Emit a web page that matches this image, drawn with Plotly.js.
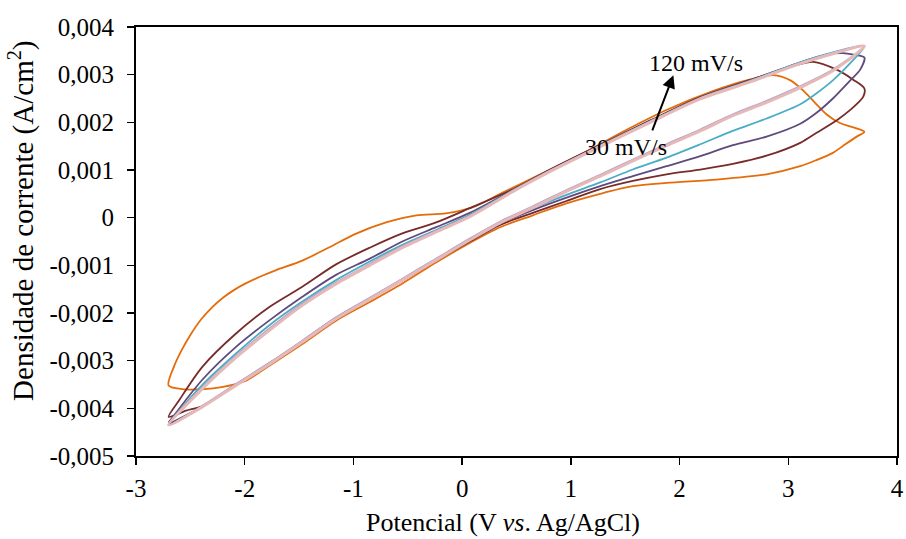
<!DOCTYPE html>
<html>
<head>
<meta charset="utf-8">
<script src="https://cdn.plot.ly/plotly-3.0.1.min.js"></script>
<style>html,body{margin:0;padding:0;background:#fff;}#chart{width:906px;height:539px;}</style>
</head>
<body>
<div id="chart"></div>
<script>
// Scan-rate series names (no legend shown in the figure)
const seriesNames = ["30 mV/s", "50 mV/s", "70 mV/s", "90 mV/s", "100 mV/s", "120 mV/s"];

// Orange loop
const potA = [-2.7,-2.65,-2.58,-2.5,-2.4,-2.3,-2.2,-2.1,-2.0,-1.85,-1.71,-1.47,-1.22,-0.98,-0.7,-0.42,-0.15,0.1,0.35,0.7,1.12,1.5,1.9,2.3,2.65,2.86,3.02,3.15,3.25,3.35,3.48,3.62,3.7,
  3.63,3.5,3.41,3.25,3.11,2.8,2.34,1.88,1.57,1.27,0.96,0.65,0.35,0.07,-0.24,-0.55,-0.85,-1.16,-1.47,-1.77,-2.0,-2.2,-2.4,-2.55,-2.7];
const curA = [-0.00352,-0.00312,-0.00278,-0.00246,-0.00213,-0.00188,-0.00168,-0.00152,-0.00139,-0.00123,-0.0011,-0.0009,-0.00062,-0.00034,-0.0001,0.00005,0.00009,0.00022,0.0005,0.00089,0.00136,0.00183,0.00228,0.00265,0.0029,0.00299,0.00288,0.00264,0.0024,0.00217,0.00198,0.00188,0.0018,
  0.0017,0.0015,0.00136,0.0012,0.00108,0.00091,0.0008,0.00073,0.00066,0.0005,0.0003,0.00005,-0.0002,-0.00053,-0.00094,-0.00138,-0.00177,-0.00216,-0.00265,-0.0031,-0.00343,-0.00355,-0.0036,-0.0036,-0.00352];

// Maroon loop
const potB = [-2.7,-2.6,-2.39,-2.08,-1.77,-1.47,-1.16,-0.85,-0.55,-0.24,0.07,0.5,0.81,1.27,1.73,2.19,2.65,3.0,3.23,3.45,3.6,3.7,
  3.69,3.57,3.45,3.26,3.11,2.8,2.49,2.19,1.88,1.57,1.27,0.96,0.65,0.35,0.07,-0.24,-0.55,-0.85,-1.16,-1.47,-1.77,-2.08,-2.39,-2.54,-2.7];
const curB = [-0.00418,-0.00382,-0.00313,-0.00243,-0.00187,-0.00145,-0.00098,-0.00063,-0.00033,-0.0001,0.0002,0.00063,0.00101,0.00153,0.00204,0.00253,0.00289,0.00315,0.00327,0.0031,0.00289,0.00271,
  0.00254,0.00226,0.00205,0.00178,0.00157,0.0013,0.00113,0.00101,0.00091,0.00077,0.0006,0.00035,0.0001,-0.00015,-0.0005,-0.0009,-0.00132,-0.00171,-0.00211,-0.0026,-0.00306,-0.00351,-0.00395,-0.00405,-0.00418];

// Purple loop
const potC = [-2.7,-2.39,-2.08,-1.77,-1.47,-1.16,-0.85,-0.55,-0.24,0.07,0.5,0.81,1.27,1.73,2.19,2.65,3.11,3.35,3.5,3.6,3.7,
  3.66,3.57,3.41,3.26,3.11,2.8,2.49,2.19,1.88,1.57,1.27,0.96,0.65,0.35,0.07,-0.24,-0.55,-0.85,-1.16,-1.47,-1.77,-2.08,-2.39,-2.7];
const curC = [-0.0043,-0.0034,-0.00271,-0.00215,-0.00166,-0.0012,-0.00086,-0.0005,-0.0002,0.0001,0.00062,0.001,0.00152,0.00203,0.00252,0.00288,0.00326,0.00342,0.00345,0.00342,0.00336,
  0.0031,0.00288,0.0025,0.0022,0.00197,0.0017,0.00152,0.00129,0.00108,0.00087,0.00066,0.00042,0.00016,-0.00012,-0.00047,-0.00089,-0.0013,-0.0017,-0.0021,-0.00259,-0.00305,-0.0035,-0.00396,-0.00433];

// Cyan loop
const potD = [-2.7,-2.39,-2.08,-1.77,-1.47,-1.16,-0.85,-0.55,-0.24,0.07,0.5,0.81,1.27,1.73,2.19,2.65,3.11,3.41,3.7,
  3.57,3.41,3.26,3.11,2.8,2.49,2.19,1.88,1.57,1.27,0.96,0.65,0.35,0.07,-0.24,-0.55,-0.85,-1.16,-1.47,-1.77,-2.08,-2.39,-2.7];
const curD = [-0.00435,-0.00351,-0.00285,-0.00225,-0.00176,-0.00131,-0.00092,-0.00057,-0.00026,0.00006,0.00061,0.00099,0.00151,0.00202,0.00251,0.00287,0.00326,0.00347,0.0036,
  0.00324,0.00288,0.00261,0.00238,0.00208,0.00182,0.00154,0.00126,0.00101,0.00074,0.00048,0.0002,-0.0001,-0.00045,-0.00087,-0.00129,-0.00169,-0.0021,-0.00259,-0.00305,-0.0035,-0.00396,-0.00435];

// Lavender loop
const potE = [-2.7,-2.39,-2.08,-1.77,-1.47,-1.16,-0.85,-0.55,-0.24,0.07,0.5,0.81,1.27,1.73,2.19,2.65,3.11,3.41,3.7,
  3.41,3.11,2.8,2.49,2.19,1.88,1.57,1.27,0.96,0.65,0.35,0.07,-0.24,-0.55,-0.85,-1.16,-1.47,-1.77,-2.08,-2.39,-2.7];
const curE = [-0.00435,-0.00356,-0.0029,-0.00232,-0.0018,-0.00136,-0.00097,-0.0006,-0.00028,0.00004,0.0006,0.00098,0.0015,0.00201,0.0025,0.00286,0.00324,0.00345,0.0036,
  0.00311,0.00276,0.00245,0.00217,0.00185,0.00154,0.00122,0.0009,0.00058,0.00024,-0.00008,-0.00044,-0.00086,-0.00128,-0.00168,-0.00209,-0.00258,-0.00304,-0.00349,-0.00395,-0.00435];

// Pink loop
const potF = [-2.7,-2.39,-2.08,-1.77,-1.47,-1.16,-0.85,-0.55,-0.24,0.07,0.5,0.81,1.27,1.73,2.19,2.65,3.11,3.41,3.7,
  3.41,3.11,2.8,2.49,2.19,1.88,1.57,1.27,0.96,0.65,0.35,0.07,-0.24,-0.55,-0.85,-1.16,-1.47,-1.77,-2.08,-2.39,-2.7];
const curF = [-0.00435,-0.00359,-0.00293,-0.00236,-0.00184,-0.00139,-0.001,-0.00063,-0.0003,0.00002,0.00059,0.00097,0.00149,0.002,0.00249,0.00285,0.00323,0.00344,0.0036,
  0.00308,0.00273,0.00242,0.00214,0.00182,0.00151,0.00119,0.00087,0.00055,0.00021,-0.00011,-0.00047,-0.00089,-0.00131,-0.00171,-0.00212,-0.00261,-0.00307,-0.00352,-0.00397,-0.00435];

const xTickVals = [-3,-2,-1,0,1,2,3,4];
const yTickVals = [-0.005,-0.004,-0.003,-0.002,-0.001,0,0.001,0.002,0.003,0.004];
const yTickLabels = ["-0,005","-0,004","-0,003","-0,002","-0,001","0","0,001","0,002","0,003","0,004"];
const xTitle = "Potencial (V <i>vs</i>. Ag/AgCl)";
const yTitle = "Densidade de corrente (A/cm<sup>2</sup>)";

const FONT = "Liberation Serif, Times New Roman, serif";
const colors = ["#E46C0A", "#772C2A", "#604A7B", "#4BACC6", "#B3A2C7", "#E6B9B8"];
const widths = [1.8, 1.8, 1.8, 1.8, 1.8, 3];
const xs = [potA, potB, potC, potD, potE, potF];
const ys = [curA, curB, curC, curD, curE, curF];

const traces = xs.map((x, i) => ({
  x: x, y: ys[i], type: "scatter", mode: "lines", name: seriesNames[i],
  line: {color: colors[i], width: widths[i], shape: "spline", smoothing: 0.8},
  showlegend: false, hoverinfo: "skip"
}));

const layout = {
  width: 906, height: 539,
  margin: {l: 136, r: 9, t: 27, b: 83},
  paper_bgcolor: "#fff", plot_bgcolor: "#fff",
  font: {family: FONT, color: "#000", size: 25},
  xaxis: {
    range: [-3, 4], tickvals: xTickVals, ticktext: xTickVals.map(String),
    showgrid: false, zeroline: false, showline: true, linecolor: "#000", linewidth: 2, mirror: true,
    ticks: "outside", ticklen: 7, tickwidth: 1.5, tickcolor: "#000",
    tickfont: {family: FONT, size: 25, color: "#000"}, ticklabelstandoff: 2,
    automargin: false
  },
  yaxis: {
    range: [-0.005, 0.004], tickvals: yTickVals, ticktext: yTickLabels,
    showgrid: false, zeroline: false, showline: true, linecolor: "#000", linewidth: 2, mirror: true,
    ticks: "outside", ticklen: 7, tickwidth: 1.5, tickcolor: "#000",
    tickfont: {family: FONT, size: 25, color: "#000"}, ticklabelstandoff: 8,
    automargin: false
  },
  annotations: [
    {x: 1.943, y: 0.00299, ax: 1.744, ay: 0.0018, xref: "x", yref: "y", axref: "x", ayref: "y",
     text: "", showarrow: true, arrowhead: 2, arrowsize: 1.3, arrowwidth: 2, arrowcolor: "#000"},
    {x: 2.151, y: 0.003255, xref: "x", yref: "y", text: "120 mV/s", showarrow: false,
     font: {family: FONT, size: 24, color: "#000"}},
    {x: 1.507, y: 0.001483, xref: "x", yref: "y", text: "30 mV/s", showarrow: false,
     font: {family: FONT, size: 24, color: "#000"}},
    {x: 0.482, y: -0.156, xref: "paper", yref: "paper", xanchor: "center", yanchor: "middle",
     text: xTitle, showarrow: false, font: {family: FONT, size: 26, color: "#000"}},
    {x: -0.1498, y: 0.548, xref: "paper", yref: "paper", xanchor: "center", yanchor: "middle",
     text: yTitle, textangle: -90, showarrow: false, font: {family: FONT, size: 29, color: "#000"}}
  ]
};

Plotly.newPlot("chart", traces, layout, {staticPlot: true, displayModeBar: false});
</script>
</body>
</html>
